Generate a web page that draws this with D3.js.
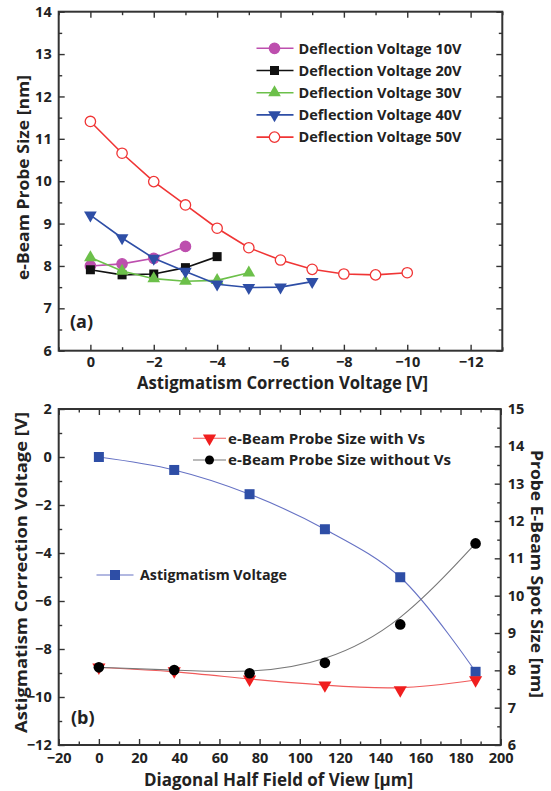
<!DOCTYPE html>
<html><head><meta charset="utf-8">
<script src="https://cdn.jsdelivr.net/npm/d3@7/dist/d3.min.js"></script>
<style>
body{margin:0;background:#fff;}
svg text{font-family:"Open Sans",sans-serif;font-weight:700;fill:#222;}
</style></head>
<body><svg id="c" width="551" height="791"></svg>
<script>
// ---------- data: chart (a) ----------
const corrVoltage = [0,-1,-2,-3,-4,-5,-6,-7,-8,-9,-10];
const seriesNames = ["Deflection Voltage 10V","Deflection Voltage 20V","Deflection Voltage 30V","Deflection Voltage 40V","Deflection Voltage 50V"];
const probe10V = [8.0, 8.05, 8.18, 8.46];
const probe20V = [7.91, 7.79, 7.81, 7.96, 8.22];
const probe30V = [8.2, 7.88, 7.7, 7.64, 7.66, 7.84];
const probe40V = [9.2, 8.66, 8.18, 7.87, 7.57, 7.49, 7.5, 7.63];
const probe50V = [11.41, 10.66, 9.99, 9.44, 8.89, 8.43, 8.14, 7.92, 7.81, 7.79, 7.84];
const xTicksA = [0,-2,-4,-6,-8,-10,-12];
const yTicksA = [6,7,8,9,10,11,12,13,14];

// ---------- data: chart (b) ----------
const halfFov = [0, 37.5, 75, 112.5, 150, 187.5];
const astigVoltage = [0, -0.54, -1.55, -3.01, -5.01, -8.95];
const probeWithVs = [8.08, 7.98, 7.76, 7.6, 7.47, 7.74];
const probeWithoutVs = [8.08, 8.01, 7.92, 8.2, 9.23, 11.4];
const xTicksB = [-20,0,20,40,60,80,100,120,140,160,180,200];
const yTicksBLeft = [-12,-10,-8,-6,-4,-2,0,2];
const yTicksBRight = [6,7,8,9,10,11,12,13,14,15];
const legendB = ["e-Beam Probe Size with Vs","e-Beam Probe Size without Vs","Astigmatism Voltage"];

const svg = d3.select("#c");
const frameColor = "#333";

function styleAxis(g){
  g.select(".domain").remove();
  g.selectAll(".tick line").attr("stroke",frameColor).attr("stroke-width",1.4);
  g.selectAll("text").attr("font-size",14.5).attr("fill","#222");
}
function range(a,b,s){const r=[];for(let v=a;v<=b+1e-9;v+=s)r.push(+v.toFixed(4));return r;}
function fitText(sel,len){return sel.attr("textLength",len).attr("lengthAdjust","spacingAndGlyphs");}

// ================= Chart (a) =================
{
  const L=58.7,R=502.3,T=11.7,B=350.7;
  const x=d3.scaleLinear().domain([1,-13]).range([L,R]);
  const y=d3.scaleLinear().domain([6,14]).range([B,T]);
  const minorX=range(-13,1,1).filter(v=>v%2!==0);
  const minorY=range(6,14,0.5).filter(v=>v%1!==0);
  svg.append("g").attr("transform",`translate(0,${B})`).call(d3.axisBottom(x).tickValues(xTicksA).tickFormat(d3.format("d")).tickSize(-6).tickPadding(6)).call(styleAxis);
  svg.append("g").attr("transform",`translate(0,${B})`).call(d3.axisBottom(x).tickValues(minorX).tickFormat("").tickSize(-3.5)).call(styleAxis);
  svg.append("g").attr("transform",`translate(0,${T})`).call(d3.axisTop(x).tickValues(xTicksA).tickFormat("").tickSize(-6)).call(styleAxis);
  svg.append("g").attr("transform",`translate(0,${T})`).call(d3.axisTop(x).tickValues(minorX).tickFormat("").tickSize(-3.5)).call(styleAxis);
  svg.append("g").attr("transform",`translate(${L},0)`).call(d3.axisLeft(y).tickValues(yTicksA).tickFormat(d3.format("d")).tickSize(-6).tickPadding(7)).call(styleAxis);
  svg.append("g").attr("transform",`translate(${L},0)`).call(d3.axisLeft(y).tickValues(minorY).tickFormat("").tickSize(-3.5)).call(styleAxis);
  svg.append("g").attr("transform",`translate(${R},0)`).call(d3.axisRight(y).tickValues(yTicksA).tickFormat("").tickSize(-6)).call(styleAxis);
  svg.append("g").attr("transform",`translate(${R},0)`).call(d3.axisRight(y).tickValues(minorY).tickFormat("").tickSize(-3.5)).call(styleAxis);
  svg.append("rect").attr("x",L).attr("y",T).attr("width",R-L).attr("height",B-T).attr("fill","none").attr("stroke",frameColor).attr("stroke-width",2);

  const series=[
    {vals:probe10V,color:"#bd4fae",sym:"circle",fill:"#bd4fae"},
    {vals:probe20V,color:"#111",sym:"square",fill:"#111"},
    {vals:probe30V,color:"#6cc04a",sym:"up",fill:"#6cc04a"},
    {vals:probe40V,color:"#2e4ea6",sym:"down",fill:"#2e4ea6"},
    {vals:probe50V,color:"#f03535",sym:"circle",fill:"#fff"}
  ];
  function marker(g,s,cx,cy){
    if(s.sym==="circle"){
      g.append("circle").attr("cx",cx).attr("cy",cy).attr("r",5.2).attr("fill",s.fill).attr("stroke",s.color).attr("stroke-width",1.3);
    } else if(s.sym==="square"){
      g.append("rect").attr("x",cx-4.5).attr("y",cy-4.5).attr("width",9).attr("height",9).attr("fill",s.fill);
    } else {
      const p=d3.symbol(d3.symbolTriangle,70)();
      g.append("path").attr("d",p).attr("transform",`translate(${cx},${cy})${s.sym==="down"?" rotate(180)":""}`).attr("fill",s.fill);
    }
  }
  const line=d3.line().x(d=>x(d[0])).y(d=>y(d[1]));
  series.forEach(s=>{
    const pts=s.vals.map((v,i)=>[corrVoltage[i],v]);
    svg.append("path").attr("d",line(pts)).attr("fill","none").attr("stroke",s.color).attr("stroke-width",1.6);
    const g=svg.append("g");
    pts.forEach(p=>marker(g,s,x(p[0]),y(p[1])));
  });
  series.forEach((s,i)=>{
    const ly=48.3+i*22.2;
    svg.append("line").attr("x1",256.5).attr("x2",293.5).attr("y1",ly).attr("y2",ly).attr("stroke",s.color).attr("stroke-width",1.6);
    marker(svg.append("g"),s,274.5,ly);
    fitText(svg.append("text").attr("x",298.5).attr("y",ly).attr("dy","0.36em").attr("font-size",14.5).text(seriesNames[i]),163);
  });
  fitText(svg.append("text").attr("transform",`translate(23,177.5) rotate(-90)`).attr("dy","0.36em").attr("text-anchor","middle").attr("font-size",16.5).text("e-Beam Probe Size [nm]"),205);
  fitText(svg.append("text").attr("x",282.5).attr("y",383).attr("dy","0.36em").attr("text-anchor","middle").attr("font-size",17).text("Astigmatism Correction Voltage [V]"),291);
  svg.append("text").attr("x",70).attr("y",322).attr("dy","0.36em").attr("font-size",18).text("(a)");
}

// ================= Chart (b) =================
{
  const L=58.7,R=500.7,T=409,B=745;
  const x=d3.scaleLinear().domain([-20,200]).range([L,R]);
  const yL=d3.scaleLinear().domain([-12,2]).range([B,T]);
  const yR=d3.scaleLinear().domain([6,15]).range([B,T]);
  const minorX=range(-20,200,10).filter(v=>v%20!==0);
  const minorYL=range(-12,2,1).filter(v=>v%2!==0);
  const minorYR=range(6,15,0.5).filter(v=>v%1!==0);
  svg.append("g").attr("transform",`translate(0,${B})`).call(d3.axisBottom(x).tickValues(xTicksB).tickFormat(d3.format("d")).tickSize(-6).tickPadding(8)).call(styleAxis);
  svg.append("g").attr("transform",`translate(0,${B})`).call(d3.axisBottom(x).tickValues(minorX).tickFormat("").tickSize(-3.5)).call(styleAxis);
  svg.append("g").attr("transform",`translate(0,${T})`).call(d3.axisTop(x).tickValues(xTicksB).tickFormat("").tickSize(-6)).call(styleAxis);
  svg.append("g").attr("transform",`translate(0,${T})`).call(d3.axisTop(x).tickValues(minorX).tickFormat("").tickSize(-3.5)).call(styleAxis);
  svg.append("g").attr("transform",`translate(${L},0)`).call(d3.axisLeft(yL).tickValues(yTicksBLeft).tickFormat(d3.format("d")).tickSize(-6).tickPadding(7)).call(styleAxis);
  svg.append("g").attr("transform",`translate(${L},0)`).call(d3.axisLeft(yL).tickValues(minorYL).tickFormat("").tickSize(-3.5)).call(styleAxis);
  svg.append("g").attr("transform",`translate(${R},0)`).call(d3.axisRight(yR).tickValues(yTicksBRight).tickFormat(d3.format("d")).tickSize(-6).tickPadding(7)).call(styleAxis);
  svg.append("g").attr("transform",`translate(${R},0)`).call(d3.axisRight(yR).tickValues(minorYR).tickFormat("").tickSize(-3.5)).call(styleAxis);
  svg.append("rect").attr("x",L).attr("y",T).attr("width",R-L).attr("height",B-T).attr("fill","none").attr("stroke",frameColor).attr("stroke-width",2);

  const blue="#2e4ea6", blueLine="#6672c4", red="#f01e1e", redLine="#f05a5a", blk="#000", blkLine="#777";
  const aPts=astigVoltage.map((v,i)=>[halfFov[i],v]);
  svg.append("path").attr("d",d3.line().x(d=>x(d[0])).y(d=>yL(d[1])).curve(d3.curveCatmullRom)(aPts)).attr("fill","none").attr("stroke",blueLine).attr("stroke-width",1.1);
  aPts.forEach(p=>svg.append("rect").attr("x",x(p[0])-5).attr("y",yL(p[1])-5).attr("width",10).attr("height",10).attr("fill",blue));
  const rPts=probeWithVs.map((v,i)=>[halfFov[i],v]);
  svg.append("path").attr("d",d3.line().x(d=>x(d[0])).y(d=>yR(d[1])).curve(d3.curveBasis)(rPts)).attr("fill","none").attr("stroke",redLine).attr("stroke-width",1.1);
  const tri=d3.symbol(d3.symbolTriangle,75)();
  rPts.forEach(p=>svg.append("path").attr("d",tri).attr("transform",`translate(${x(p[0])},${yR(p[1])}) rotate(180)`).attr("fill",red));
  const kPts=probeWithoutVs.map((v,i)=>[halfFov[i],v]);
  svg.append("path").attr("d",d3.line().x(d=>x(d[0])).y(d=>yR(d[1])).curve(d3.curveBasis)(kPts)).attr("fill","none").attr("stroke",blkLine).attr("stroke-width",1.1);
  kPts.forEach(p=>svg.append("circle").attr("cx",x(p[0])).attr("cy",yR(p[1])).attr("r",5.3).attr("fill",blk));

  const lg=[{y:438.3,x1:193,x2:226,mx:209.5,col:redLine,m:"tri",t:legendB[0],tx:228,len:197},
            {y:460,x1:193,x2:226,mx:209.5,col:blkLine,m:"circ",t:legendB[1],tx:228,len:223},
            {y:575,x1:96.5,x2:133.5,mx:115,col:blueLine,m:"sq",t:legendB[2],tx:140,len:147}];
  lg.forEach(d=>{
    svg.append("line").attr("x1",d.x1).attr("x2",d.x2).attr("y1",d.y).attr("y2",d.y).attr("stroke",d.col).attr("stroke-width",1.1);
    if(d.m==="tri") svg.append("path").attr("d",tri).attr("transform",`translate(${d.mx},${d.y}) rotate(180)`).attr("fill",red);
    if(d.m==="circ") svg.append("circle").attr("cx",d.mx).attr("cy",d.y).attr("r",4.5).attr("fill",blk);
    if(d.m==="sq") svg.append("rect").attr("x",d.mx-5).attr("y",d.y-5).attr("width",10).attr("height",10).attr("fill",blue);
    fitText(svg.append("text").attr("x",d.tx).attr("y",d.y).attr("dy","0.36em").attr("font-size",14.5).text(d.t),d.len);
  });
  fitText(svg.append("text").attr("transform",`translate(21,572.5) rotate(-90)`).attr("dy","0.36em").attr("text-anchor","middle").attr("font-size",16.5).text("Astigmatism Correction Voltage [V]"),321);
  fitText(svg.append("text").attr("transform",`translate(536.5,574) rotate(90)`).attr("dy","0.36em").attr("text-anchor","middle").attr("font-size",16).text("Probe E-Beam Spot Size [nm]"),248);
  fitText(svg.append("text").attr("x",278.5).attr("y",780).attr("dy","0.36em").attr("text-anchor","middle").attr("font-size",17).text("Diagonal Half Field of View [μm]"),269);
  svg.append("text").attr("x",71).attr("y",718).attr("dy","0.36em").attr("font-size",18).text("(b)");
}
</script></body></html>
